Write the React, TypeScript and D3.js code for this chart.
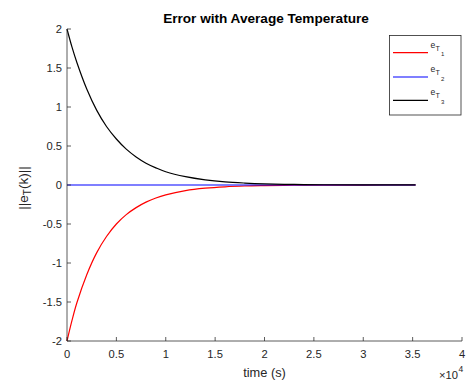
import React from "react";
import * as d3 from "d3";

const timeTicks = [0, 0.5, 1, 1.5, 2, 2.5, 3, 3.5, 4];
const valueTicks = [-2, -1.5, -1, -0.5, 0, 0.5, 1, 1.5, 2];
const timeTickLabels = ["0", "0.5", "1", "1.5", "2", "2.5", "3", "3.5", "4"];
const valueTickLabels = ["-2", "-1.5", "-1", "-0.5", "0", "0.5", "1", "1.5", "2"];

// time in units of 1e4 s
const times = [0, 0.05, 0.1, 0.2, 0.3, 0.4, 0.5, 0.6, 0.7, 0.8, 0.9, 1.0, 1.2, 1.4, 1.6, 1.8, 2.0, 2.3, 2.6, 3.0, 3.53];
const eT1 = [-2, -1.74, -1.51, -1.15, -0.87, -0.66, -0.5, -0.38, -0.29, -0.22, -0.166, -0.126, -0.072, -0.041, -0.023, -0.013, -0.008, -0.003, -0.0012, -0.0005, -0.0001];
const eT2 = [0, 0, 0, 0, 0, 0, 0, 0, 0, 0, 0, 0, 0, 0, 0, 0, 0, 0, 0, 0, 0];
const eT3 = [2, 1.77, 1.57, 1.23, 0.96, 0.75, 0.59, 0.46, 0.36, 0.28, 0.22, 0.17, 0.107, 0.066, 0.04, 0.025, 0.015, 0.007, 0.0035, 0.0013, 0.0004];

const seriesNames = ["1", "2", "3"];
const seriesColors = ["#ff0000", "#0000ff", "#000000"];
const seriesData = [eT1, eT2, eT3];

const title = "Error with Average Temperature";
const xLabel = "time (s)";

export default function App() {
  const left = 67, right = 462, top = 29, bottom = 341;
  const x = d3.scaleLinear().domain([0, 4]).range([left, right]);
  const y = d3.scaleLinear().domain([-2, 2]).range([bottom, top]);
  const line = d3
    .line<number>()
    .x((_, i) => x(times[i]))
    .y((d) => y(d))
    .curve(d3.curveCatmullRom.alpha(0.5));
  const axisColor = "#262626";
  const font = "Liberation Sans, Arial, Helvetica, sans-serif";

  const legendLeft = 389.5, legendTop = 35.5, legendRight = 461, legendBottom = 115;
  const legendYs = [52.7, 77, 100.3];

  return (
    <svg
      width={467}
      height={381}
      style={{ position: "absolute", left: 0, top: 0, background: "#fff" }}
      fontFamily={font}
    >
      <rect x={0} y={0} width={467} height={381} fill="#fff" />
      {/* data lines */}
      {seriesData.map((s, i) => (
        <path key={i} d={line(s) || ""} fill="none" stroke={seriesColors[i]} strokeWidth={1.2} />
      ))}
      {/* axes */}
      <line x1={left} x2={right} y1={bottom} y2={bottom} stroke={axisColor} strokeWidth={1} strokeOpacity={0.75} />
      <line x1={left} x2={left} y1={top} y2={bottom} stroke={axisColor} strokeWidth={1} strokeOpacity={0.75} />
      {timeTicks.map((t, i) => (
        <g key={"xt" + i}>
          <line x1={x(t)} x2={x(t)} y1={bottom} y2={bottom - 4} stroke={axisColor} strokeWidth={1} strokeOpacity={0.75} />
          <text x={x(t)} y={357.8} fontSize={11.2} fill={axisColor} textAnchor="middle">
            {timeTickLabels[i]}
          </text>
        </g>
      ))}
      {valueTicks.map((v, i) => (
        <g key={"yt" + i}>
          <line x1={left} x2={left + 4} y1={y(v)} y2={y(v)} stroke={axisColor} strokeWidth={1} strokeOpacity={0.75} />
          <text x={62} y={y(v) + 4} fontSize={11.2} fill={axisColor} textAnchor="end">
            {valueTickLabels[i]}
          </text>
        </g>
      ))}
      {/* exponent */}
      <text x={458} y={378.5} fontSize={11.2} fill={axisColor} textAnchor="end">
        ×10
      </text>
      <text x={458.5} y={372} fontSize={8.5} fill={axisColor}>
        4
      </text>
      {/* labels */}
      <text x={266} y={22.5} fontSize={13.6} fontWeight="bold" fill="#000" textAnchor="middle">
        {title}
      </text>
      <text x={264.5} y={376.5} fontSize={12.8} fill={axisColor} textAnchor="middle">
        {xLabel}
      </text>
      <g transform={`translate(28,${(top + bottom) / 2 + 3}) rotate(-90)`}>
        <text x={0} y={0} fontSize={13.5} fill={axisColor} textAnchor="middle">
          <tspan>||e</tspan>
          <tspan fontSize={10} dy={3}>T</tspan>
          <tspan dy={-3}>(k)||</tspan>
        </text>
      </g>
      {/* legend */}
      <rect
        x={legendLeft}
        y={legendTop}
        width={legendRight - legendLeft}
        height={legendBottom - legendTop}
        fill="#fff"
        stroke={axisColor}
        strokeWidth={0.8}
      />
      {seriesNames.map((n, i) => (
        <g key={"lg" + i}>
          <line x1={393} x2={428} y1={legendYs[i]} y2={legendYs[i]} stroke={seriesColors[i]} strokeWidth={1.2} />
          <text x={430.5} y={legendYs[i] - 5} fontSize={8.6} fill={axisColor}>
            e
          </text>
          <text x={435.6} y={legendYs[i] - 2} fontSize={7.2} fill={axisColor}>
            T
          </text>
          <text x={441} y={legendYs[i] + 3.6} fontSize={6} fill={axisColor}>
            {n}
          </text>
        </g>
      ))}
    </svg>
  );
}
